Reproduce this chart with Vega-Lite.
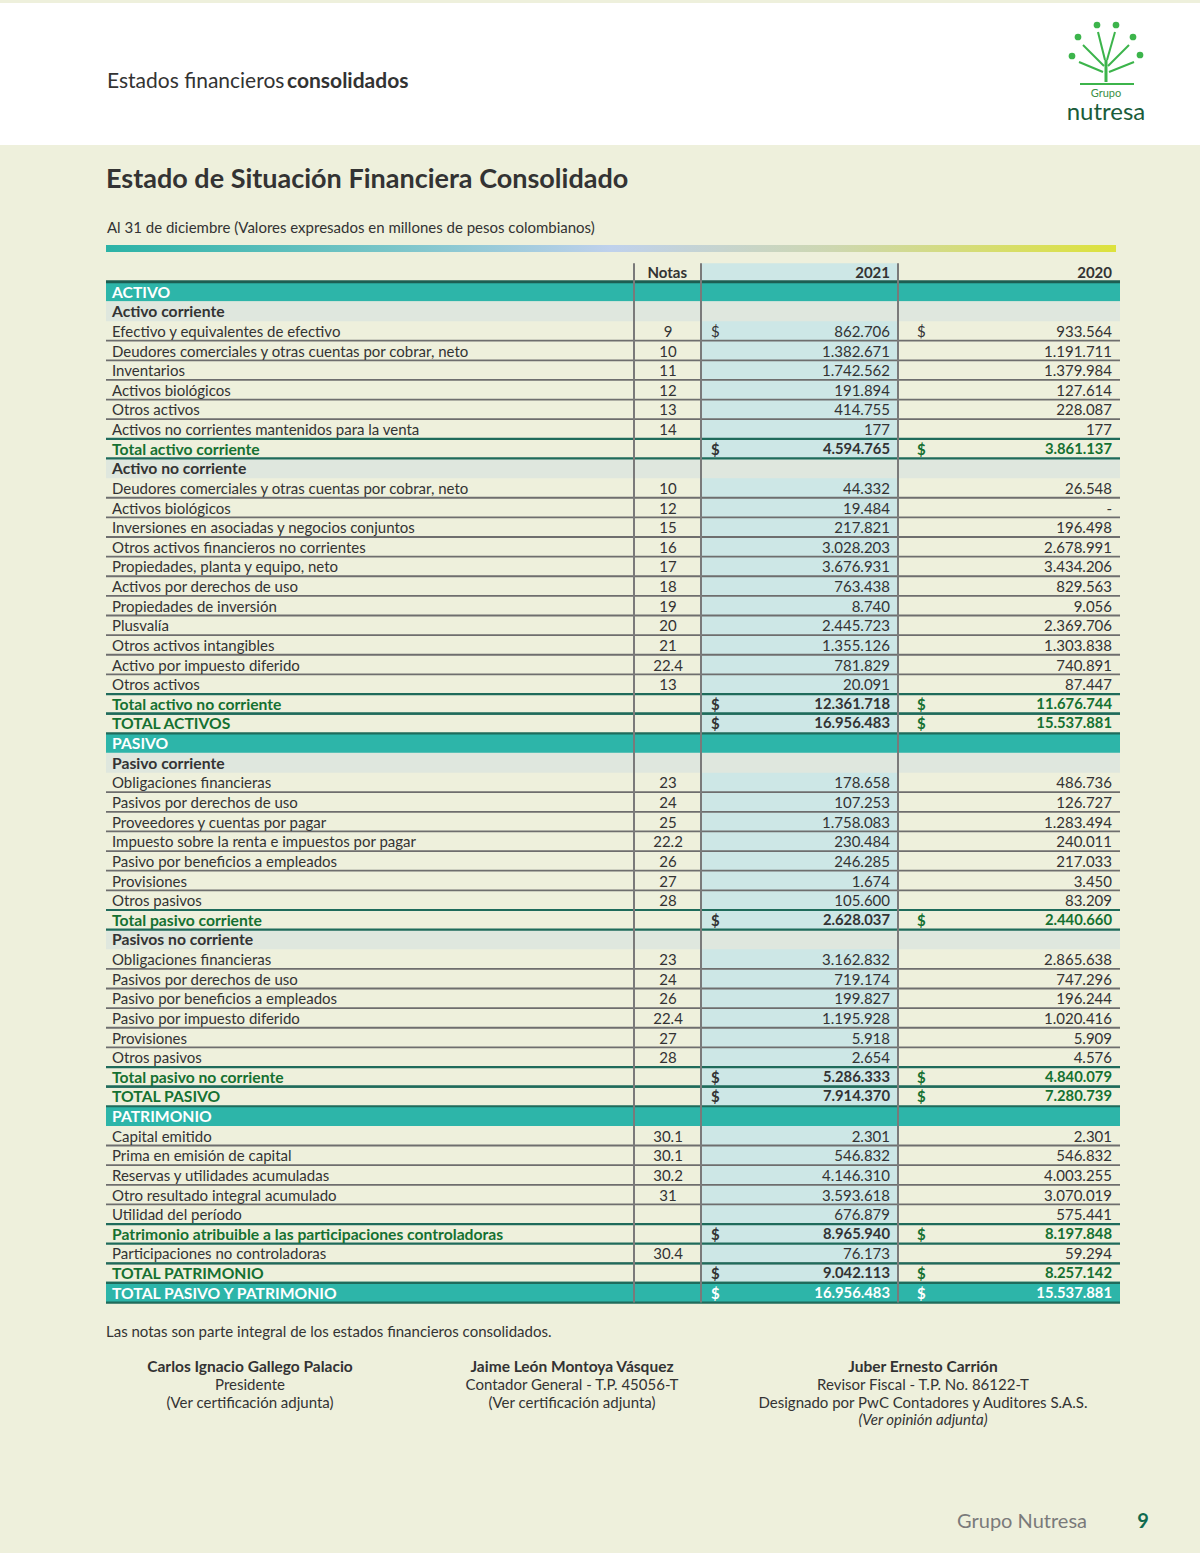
{
 "$schema": "https://vega.github.io/schema/vega-lite/v6.json",
 "width": 1200,
 "height": 1553,
 "autosize": {"type": "fit", "contains": "padding"},
 "padding": 0,
 "background": "#eef0dc",
 "config": {
  "view": {"stroke": null},
  "axis": {"disable": true},
  "locale": {"number": {"decimal": ",", "thousands": ".", "grouping": [3], "currency": ["$", ""]}},
  "text": {"font": "Lato", "fontSize": 15, "color": "#333333", "baseline": "middle"}
 },
 "datasets": {
  "uno": [{}],
  "tabla": [
   {"r": 1, "tipo": "section", "concepto": "ACTIVO"},
   {"r": 2, "tipo": "sub", "concepto": "Activo corriente"},
   {"r": 3, "tipo": "item", "concepto": "Efectivo y equivalentes de efectivo", "nota": "9", "v2021": 862706, "v2020": 933564, "signo": "$"},
   {"r": 4, "tipo": "item", "concepto": "Deudores comerciales y otras cuentas por cobrar, neto", "nota": "10", "v2021": 1382671, "v2020": 1191711},
   {"r": 5, "tipo": "item", "concepto": "Inventarios", "nota": "11", "v2021": 1742562, "v2020": 1379984},
   {"r": 6, "tipo": "item", "concepto": "Activos biológicos", "nota": "12", "v2021": 191894, "v2020": 127614},
   {"r": 7, "tipo": "item", "concepto": "Otros activos", "nota": "13", "v2021": 414755, "v2020": 228087},
   {"r": 8, "tipo": "item", "concepto": "Activos no corrientes mantenidos para la venta", "nota": "14", "v2021": 177, "v2020": 177},
   {"r": 9, "tipo": "total", "concepto": "Total activo corriente", "v2021": 4594765, "v2020": 3861137, "signo": "$"},
   {"r": 10, "tipo": "sub", "concepto": "Activo no corriente"},
   {"r": 11, "tipo": "item", "concepto": "Deudores comerciales y otras cuentas por cobrar, neto", "nota": "10", "v2021": 44332, "v2020": 26548},
   {"r": 12, "tipo": "item", "concepto": "Activos biológicos", "nota": "12", "v2021": 19484, "v2020": null},
   {"r": 13, "tipo": "item", "concepto": "Inversiones en asociadas y negocios conjuntos", "nota": "15", "v2021": 217821, "v2020": 196498},
   {"r": 14, "tipo": "item", "concepto": "Otros activos financieros no corrientes", "nota": "16", "v2021": 3028203, "v2020": 2678991},
   {"r": 15, "tipo": "item", "concepto": "Propiedades, planta y equipo, neto", "nota": "17", "v2021": 3676931, "v2020": 3434206},
   {"r": 16, "tipo": "item", "concepto": "Activos por derechos de uso", "nota": "18", "v2021": 763438, "v2020": 829563},
   {"r": 17, "tipo": "item", "concepto": "Propiedades de inversión", "nota": "19", "v2021": 8740, "v2020": 9056},
   {"r": 18, "tipo": "item", "concepto": "Plusvalía", "nota": "20", "v2021": 2445723, "v2020": 2369706},
   {"r": 19, "tipo": "item", "concepto": "Otros activos intangibles", "nota": "21", "v2021": 1355126, "v2020": 1303838},
   {"r": 20, "tipo": "item", "concepto": "Activo por impuesto diferido", "nota": "22.4", "v2021": 781829, "v2020": 740891},
   {"r": 21, "tipo": "item", "concepto": "Otros activos", "nota": "13", "v2021": 20091, "v2020": 87447},
   {"r": 22, "tipo": "total", "concepto": "Total activo no corriente", "v2021": 12361718, "v2020": 11676744, "signo": "$"},
   {"r": 23, "tipo": "total", "concepto": "TOTAL ACTIVOS", "v2021": 16956483, "v2020": 15537881, "signo": "$"},
   {"r": 24, "tipo": "section", "concepto": "PASIVO"},
   {"r": 25, "tipo": "sub", "concepto": "Pasivo corriente"},
   {"r": 26, "tipo": "item", "concepto": "Obligaciones financieras", "nota": "23", "v2021": 178658, "v2020": 486736},
   {"r": 27, "tipo": "item", "concepto": "Pasivos por derechos de uso", "nota": "24", "v2021": 107253, "v2020": 126727},
   {"r": 28, "tipo": "item", "concepto": "Proveedores y cuentas por pagar", "nota": "25", "v2021": 1758083, "v2020": 1283494},
   {"r": 29, "tipo": "item", "concepto": "Impuesto sobre la renta e impuestos por pagar", "nota": "22.2", "v2021": 230484, "v2020": 240011},
   {"r": 30, "tipo": "item", "concepto": "Pasivo por beneficios a empleados", "nota": "26", "v2021": 246285, "v2020": 217033},
   {"r": 31, "tipo": "item", "concepto": "Provisiones", "nota": "27", "v2021": 1674, "v2020": 3450},
   {"r": 32, "tipo": "item", "concepto": "Otros pasivos", "nota": "28", "v2021": 105600, "v2020": 83209},
   {"r": 33, "tipo": "total", "concepto": "Total pasivo corriente", "v2021": 2628037, "v2020": 2440660, "signo": "$"},
   {"r": 34, "tipo": "sub", "concepto": "Pasivos no corriente"},
   {"r": 35, "tipo": "item", "concepto": "Obligaciones financieras", "nota": "23", "v2021": 3162832, "v2020": 2865638},
   {"r": 36, "tipo": "item", "concepto": "Pasivos por derechos de uso", "nota": "24", "v2021": 719174, "v2020": 747296},
   {"r": 37, "tipo": "item", "concepto": "Pasivo por beneficios a empleados", "nota": "26", "v2021": 199827, "v2020": 196244},
   {"r": 38, "tipo": "item", "concepto": "Pasivo por impuesto diferido", "nota": "22.4", "v2021": 1195928, "v2020": 1020416},
   {"r": 39, "tipo": "item", "concepto": "Provisiones", "nota": "27", "v2021": 5918, "v2020": 5909},
   {"r": 40, "tipo": "item", "concepto": "Otros pasivos", "nota": "28", "v2021": 2654, "v2020": 4576},
   {"r": 41, "tipo": "total", "concepto": "Total pasivo no corriente", "v2021": 5286333, "v2020": 4840079, "signo": "$"},
   {"r": 42, "tipo": "total", "concepto": "TOTAL PASIVO", "v2021": 7914370, "v2020": 7280739, "signo": "$"},
   {"r": 43, "tipo": "section", "concepto": "PATRIMONIO"},
   {"r": 44, "tipo": "item", "concepto": "Capital emitido", "nota": "30.1", "v2021": 2301, "v2020": 2301},
   {"r": 45, "tipo": "item", "concepto": "Prima en emisión de capital", "nota": "30.1", "v2021": 546832, "v2020": 546832},
   {"r": 46, "tipo": "item", "concepto": "Reservas y utilidades acumuladas", "nota": "30.2", "v2021": 4146310, "v2020": 4003255},
   {"r": 47, "tipo": "item", "concepto": "Otro resultado integral acumulado", "nota": "31", "v2021": 3593618, "v2020": 3070019},
   {"r": 48, "tipo": "item", "concepto": "Utilidad del período", "nota": "", "v2021": 676879, "v2020": 575441},
   {"r": 49, "tipo": "total", "concepto": "Patrimonio atribuible a las participaciones controladoras", "v2021": 8965940, "v2020": 8197848, "signo": "$"},
   {"r": 50, "tipo": "item", "concepto": "Participaciones no controladoras", "nota": "30.4", "v2021": 76173, "v2020": 59294},
   {"r": 51, "tipo": "total", "concepto": "TOTAL PATRIMONIO", "v2021": 9042113, "v2020": 8257142, "signo": "$"},
   {"r": 52, "tipo": "final", "concepto": "TOTAL PASIVO Y PATRIMONIO", "v2021": 16956483, "v2020": 15537881, "signo": "$"}
  ]
 },
 "layer": [
  {"data": {"name": "uno"}, "mark": {"type": "rect", "color": "#ffffff"},
   "encoding": {
    "x": {"datum": 0, "type": "quantitative", "scale": {"domain": [0, 1200], "nice": false, "zero": false}, "axis": null},
    "x2": {"datum": 1200},
    "y": {"datum": -13.704, "type": "quantitative", "scale": {"domain": [-13.8563, 65.2573], "nice": false, "zero": false, "reverse": true}, "axis": null},
    "y2": {"datum": -6.47}}},
  {"data": {"name": "uno"}, "mark": {"type": "rect", "fill": {"gradient": "linear", "x1": 0, "y1": 0, "x2": 1, "y2": 0, "stops": [{"offset": 0, "color": "#2bb3a6"}, {"offset": 0.28, "color": "#79c5c8"}, {"offset": 0.5, "color": "#bfd1ec"}, {"offset": 0.72, "color": "#cdd7b0"}, {"offset": 1, "color": "#dde23c"}]}},
   "encoding": {"x": {"datum": 106, "type": "quantitative"}, "x2": {"datum": 1116}, "y": {"datum": -1.375, "type": "quantitative"}, "y2": {"datum": -1.019}}},
  {"data": {"name": "uno"}, "mark": {"type": "rect", "color": "#cde7e6"},
   "encoding": {"x": {"datum": 701, "type": "quantitative"}, "x2": {"datum": 897}, "y": {"datum": -0.45, "type": "quantitative"}, "y2": {"datum": 51.5}}},
  {"data": {"name": "tabla"}, "transform": [{"filter": "datum.tipo == 'section' || datum.tipo == 'final'"}],
   "mark": {"type": "rule", "color": "#2db5a9", "strokeWidth": 19.8},
   "encoding": {"x": {"datum": 106, "type": "quantitative"}, "x2": {"datum": 1120}, "y": {"field": "r", "type": "quantitative"}}},
  {"data": {"name": "tabla"}, "transform": [{"filter": "datum.tipo == 'sub'"}],
   "mark": {"type": "rule", "color": "#dfe7de", "strokeWidth": 19.8},
   "encoding": {"x": {"datum": 106, "type": "quantitative"}, "x2": {"datum": 1120}, "y": {"field": "r", "type": "quantitative"}}},
  {"data": {"name": "tabla"}, "transform": [{"filter": "datum.tipo == 'item'"}],
   "mark": {"type": "rule", "color": "#6e6e6e", "strokeWidth": 1.8, "yOffset": 9.8},
   "encoding": {"x": {"datum": 106, "type": "quantitative"}, "x2": {"datum": 1120}, "y": {"field": "r", "type": "quantitative"}}},
  {"data": {"name": "tabla"}, "transform": [{"filter": "datum.tipo == 'total' || datum.tipo == 'final'"}],
   "mark": {"type": "rule", "color": "#1f6b5b", "strokeWidth": 2.2, "yOffset": -9.8},
   "encoding": {"x": {"datum": 106, "type": "quantitative"}, "x2": {"datum": 1120}, "y": {"field": "r", "type": "quantitative"}}},
  {"data": {"name": "tabla"}, "transform": [{"filter": "datum.tipo == 'total' || datum.tipo == 'final'"}],
   "mark": {"type": "rule", "color": "#1f6b5b", "strokeWidth": 2.2, "yOffset": 9.8},
   "encoding": {"x": {"datum": 106, "type": "quantitative"}, "x2": {"datum": 1120}, "y": {"field": "r", "type": "quantitative"}}},
  {"data": {"name": "uno"}, "mark": {"type": "rule", "color": "#1d5e52", "strokeWidth": 3},
   "encoding": {"x": {"datum": 106, "type": "quantitative"}, "x2": {"datum": 1120}, "y": {"datum": 0.5, "type": "quantitative"}}},
  {"data": {"name": "uno"}, "mark": {"type": "rule", "color": "#7a7a7a", "strokeWidth": 2},
   "encoding": {"x": {"datum": 634, "type": "quantitative"}, "y": {"datum": -0.45, "type": "quantitative"}, "y2": {"datum": 52.5}}},
  {"data": {"name": "uno"}, "mark": {"type": "rule", "color": "#7a7a7a", "strokeWidth": 2},
   "encoding": {"x": {"datum": 701, "type": "quantitative"}, "y": {"datum": -0.45, "type": "quantitative"}, "y2": {"datum": 52.5}}},
  {"data": {"name": "uno"}, "mark": {"type": "rule", "color": "#7a7a7a", "strokeWidth": 2},
   "encoding": {"x": {"datum": 898, "type": "quantitative"}, "y": {"datum": -0.45, "type": "quantitative"}, "y2": {"datum": 52.5}}},
  {"data": {"name": "uno"}, "mark": {"type": "text", "align": "right", "fontWeight": "bold", "dy": 1},
   "encoding": {"x": {"datum": 687, "type": "quantitative"}, "y": {"datum": 0, "type": "quantitative"}, "text": {"value": "Notas"}}},
  {"data": {"name": "uno"}, "mark": {"type": "text", "align": "right", "fontWeight": "bold", "dy": 1},
   "encoding": {"x": {"datum": 890, "type": "quantitative"}, "y": {"datum": 0, "type": "quantitative"}, "text": {"value": "2021"}}},
  {"data": {"name": "uno"}, "mark": {"type": "text", "align": "right", "fontWeight": "bold", "dy": 1},
   "encoding": {"x": {"datum": 1112, "type": "quantitative"}, "y": {"datum": 0, "type": "quantitative"}, "text": {"value": "2020"}}},
  {"data": {"name": "tabla"}, "transform": [{"filter": "datum.tipo == 'item'"}],
   "mark": {"type": "text", "align": "left", "dy": 1},
   "encoding": {"x": {"datum": 112, "type": "quantitative"}, "y": {"field": "r", "type": "quantitative"}, "text": {"field": "concepto"}}},
  {"data": {"name": "tabla"}, "transform": [{"filter": "datum.tipo != 'item'"}],
   "mark": {"type": "text", "align": "left", "fontWeight": "bold", "fontSize": 15.7, "dy": 1},
   "encoding": {"x": {"datum": 112, "type": "quantitative"}, "y": {"field": "r", "type": "quantitative"}, "text": {"field": "concepto"},
    "color": {"condition": [{"test": "datum.tipo == 'section' || datum.tipo == 'final'", "value": "#ffffff"}, {"test": "datum.tipo == 'total'", "value": "#157031"}], "value": "#333333"}}},
  {"data": {"name": "tabla"}, "transform": [{"filter": "datum.tipo == 'item'"}],
   "mark": {"type": "text", "align": "center", "dy": 1},
   "encoding": {"x": {"datum": 668, "type": "quantitative"}, "y": {"field": "r", "type": "quantitative"}, "text": {"field": "nota"}}},
  {"data": {"name": "tabla"}, "transform": [{"filter": "datum.tipo == 'item'"}],
   "mark": {"type": "text", "align": "right", "dy": 1},
   "encoding": {"x": {"datum": 890, "type": "quantitative"}, "y": {"field": "r", "type": "quantitative"}, "text": {"field": "v2021", "type": "quantitative", "format": ",.0f"}}},
  {"data": {"name": "tabla"}, "transform": [{"filter": "datum.tipo == 'item'"}],
   "mark": {"type": "text", "align": "right", "dy": 1},
   "encoding": {"x": {"datum": 1112, "type": "quantitative"}, "y": {"field": "r", "type": "quantitative"},
    "text": {"condition": {"test": "datum.v2020 == null", "value": "-"}, "field": "v2020", "type": "quantitative", "format": ",.0f"}}},
  {"data": {"name": "tabla"}, "transform": [{"filter": "datum.tipo == 'total' || datum.tipo == 'final'"}],
   "mark": {"type": "text", "align": "right", "fontWeight": "bold", "fontSize": 14.8, "dy": 1},
   "encoding": {"x": {"datum": 890, "type": "quantitative"}, "y": {"field": "r", "type": "quantitative"}, "text": {"field": "v2021", "type": "quantitative", "format": ",.0f"},
    "color": {"condition": {"test": "datum.tipo == 'final'", "value": "#ffffff"}, "value": "#333333"}}},
  {"data": {"name": "tabla"}, "transform": [{"filter": "datum.tipo == 'total' || datum.tipo == 'final'"}],
   "mark": {"type": "text", "align": "right", "fontWeight": "bold", "fontSize": 14.8, "dy": 1},
   "encoding": {"x": {"datum": 1112, "type": "quantitative"}, "y": {"field": "r", "type": "quantitative"}, "text": {"field": "v2020", "type": "quantitative", "format": ",.0f"},
    "color": {"condition": {"test": "datum.tipo == 'final'", "value": "#ffffff"}, "value": "#157031"}}},
  {"data": {"name": "tabla"}, "transform": [{"filter": "datum.tipo == 'item' && datum.signo == '$'"}],
   "mark": {"type": "text", "align": "left", "dy": 1},
   "encoding": {"x": {"datum": 711, "type": "quantitative"}, "y": {"field": "r", "type": "quantitative"}, "text": {"field": "signo"}}},
  {"data": {"name": "tabla"}, "transform": [{"filter": "datum.tipo == 'item' && datum.signo == '$'"}],
   "mark": {"type": "text", "align": "left", "dy": 1},
   "encoding": {"x": {"datum": 917, "type": "quantitative"}, "y": {"field": "r", "type": "quantitative"}, "text": {"field": "signo"}}},
  {"data": {"name": "tabla"}, "transform": [{"filter": "datum.tipo == 'total' || datum.tipo == 'final'"}],
   "mark": {"type": "text", "align": "left", "fontWeight": "bold", "dy": 1},
   "encoding": {"x": {"datum": 711, "type": "quantitative"}, "y": {"field": "r", "type": "quantitative"}, "text": {"field": "signo"},
    "color": {"condition": {"test": "datum.tipo == 'final'", "value": "#ffffff"}, "value": "#333333"}}},
  {"data": {"name": "tabla"}, "transform": [{"filter": "datum.tipo == 'total' || datum.tipo == 'final'"}],
   "mark": {"type": "text", "align": "left", "fontWeight": "bold", "dy": 1},
   "encoding": {"x": {"datum": 917, "type": "quantitative"}, "y": {"field": "r", "type": "quantitative"}, "text": {"field": "signo"},
    "color": {"condition": {"test": "datum.tipo == 'final'", "value": "#ffffff"}, "value": "#157031"}}},
  {"data": {"name": "uno"}, "mark": {"type": "text", "align": "left", "fontSize": 21},
   "encoding": {"x": {"datum": 107, "type": "quantitative"}, "y": {"datum": -9.679, "type": "quantitative"}, "text": {"value": "Estados financieros"}}},
  {"data": {"name": "uno"}, "mark": {"type": "text", "align": "left", "fontSize": 21, "fontWeight": "bold"},
   "encoding": {"x": {"datum": 287, "type": "quantitative"}, "y": {"datum": -9.679, "type": "quantitative"}, "text": {"value": "consolidados"}}},
  {"data": {"name": "uno"}, "mark": {"type": "text", "align": "left", "fontSize": 27, "fontWeight": "bold"},
   "encoding": {"x": {"datum": 106, "type": "quantitative"}, "y": {"datum": -4.687, "type": "quantitative"}, "text": {"value": "Estado de Situación Financiera Consolidado"}}},
  {"data": {"name": "uno"}, "mark": {"type": "text", "align": "left", "fontSize": 15},
   "encoding": {"x": {"datum": 107, "type": "quantitative"}, "y": {"datum": -2.241, "type": "quantitative"}, "text": {"value": "Al 31 de diciembre (Valores expresados en millones de pesos colombianos)"}}},
  {"data": {"name": "uno"}, "mark": {"type": "text", "align": "left", "fontSize": 15},
   "encoding": {"x": {"datum": 106, "type": "quantitative"}, "y": {"datum": 54.0, "type": "quantitative"}, "text": {"value": "Las notas son parte integral de los estados financieros consolidados."}}},
  {"data": {"name": "uno"}, "mark": {"type": "text", "align": "center", "fontWeight": "bold", "fontSize": 15.5},
   "encoding": {"x": {"datum": 250, "type": "quantitative"}, "y": {"datum": 55.78, "type": "quantitative"}, "text": {"value": "Carlos Ignacio Gallego Palacio"}}},
  {"data": {"name": "uno"}, "mark": {"type": "text", "align": "center", "fontWeight": "bold", "fontSize": 15.5},
   "encoding": {"x": {"datum": 572, "type": "quantitative"}, "y": {"datum": 55.78, "type": "quantitative"}, "text": {"value": "Jaime León Montoya Vásquez"}}},
  {"data": {"name": "uno"}, "mark": {"type": "text", "align": "center", "fontWeight": "bold", "fontSize": 15.5},
   "encoding": {"x": {"datum": 923, "type": "quantitative"}, "y": {"datum": 55.78, "type": "quantitative"}, "text": {"value": "Juber Ernesto Carrión"}}},
  {"data": {"name": "uno"}, "mark": {"type": "text", "align": "center", "baseline": "alphabetic", "lineHeight": 18},
   "encoding": {"x": {"datum": 250, "type": "quantitative"}, "y": {"datum": 56.95, "type": "quantitative"}, "text": {"value": ["Presidente", "(Ver certificación adjunta)"]}}},
  {"data": {"name": "uno"}, "mark": {"type": "text", "align": "center", "baseline": "alphabetic", "lineHeight": 18},
   "encoding": {"x": {"datum": 572, "type": "quantitative"}, "y": {"datum": 56.95, "type": "quantitative"}, "text": {"value": ["Contador General - T.P. 45056-T", "(Ver certificación adjunta)"]}}},
  {"data": {"name": "uno"}, "mark": {"type": "text", "align": "center", "baseline": "alphabetic", "lineHeight": 18},
   "encoding": {"x": {"datum": 923, "type": "quantitative"}, "y": {"datum": 56.95, "type": "quantitative"}, "text": {"value": ["Revisor Fiscal - T.P. No. 86122-T", "Designado por PwC Contadores y Auditores S.A.S."]}}},
  {"data": {"name": "uno"}, "mark": {"type": "text", "align": "center", "baseline": "alphabetic", "fontStyle": "italic"},
   "encoding": {"x": {"datum": 923, "type": "quantitative"}, "y": {"datum": 58.74, "type": "quantitative"}, "text": {"value": "(Ver opinión adjunta)"}}},
  {"data": {"name": "uno"}, "mark": {"type": "text", "align": "right", "fontSize": 20, "color": "#7a7a7a"},
   "encoding": {"x": {"datum": 1087, "type": "quantitative"}, "y": {"datum": 63.678, "type": "quantitative"}, "text": {"value": "Grupo Nutresa"}}},
  {"data": {"name": "uno"}, "mark": {"type": "text", "align": "center", "fontSize": 20, "fontWeight": "bold", "color": "#0f6b4f"},
   "encoding": {"x": {"datum": 1143, "type": "quantitative"}, "y": {"datum": 63.678, "type": "quantitative"}, "text": {"value": "9"}}},
  {"data": {"name": "uno"}, "mark": {"type": "rule", "color": "#3cb44b", "strokeWidth": 2},
   "encoding": {"x": {"datum": 1080, "type": "quantitative"}, "x2": {"datum": 1134}, "y": {"datum": -9.577, "type": "quantitative"}}},
  {"data": {"name": "uno"}, "mark": {"type": "rule", "color": "#3cb44b", "strokeWidth": 3},
   "encoding": {"x": {"datum": 1106, "type": "quantitative"}, "x2": {"datum": 1106}, "y": {"datum": -9.679, "type": "quantitative"}, "y2": {"datum": -10.8}}},
  {"data": {"name": "uno"}, "mark": {"type": "rule", "color": "#3cb44b", "strokeWidth": 2},
   "encoding": {"x": {"datum": 1105, "type": "quantitative"}, "x2": {"datum": 1098}, "y": {"datum": -10.8, "type": "quantitative"}, "y2": {"datum": -12.226}}},
  {"data": {"name": "uno"}, "mark": {"type": "rule", "color": "#3cb44b", "strokeWidth": 2},
   "encoding": {"x": {"datum": 1107, "type": "quantitative"}, "x2": {"datum": 1115}, "y": {"datum": -10.8, "type": "quantitative"}, "y2": {"datum": -12.226}}},
  {"data": {"name": "uno"}, "mark": {"type": "rule", "color": "#3cb44b", "strokeWidth": 2},
   "encoding": {"x": {"datum": 1104, "type": "quantitative"}, "x2": {"datum": 1083}, "y": {"datum": -10.494, "type": "quantitative"}, "y2": {"datum": -11.564}}},
  {"data": {"name": "uno"}, "mark": {"type": "rule", "color": "#3cb44b", "strokeWidth": 2},
   "encoding": {"x": {"datum": 1108, "type": "quantitative"}, "x2": {"datum": 1129}, "y": {"datum": -10.494, "type": "quantitative"}, "y2": {"datum": -11.564}}},
  {"data": {"name": "uno"}, "mark": {"type": "rule", "color": "#3cb44b", "strokeWidth": 2},
   "encoding": {"x": {"datum": 1103, "type": "quantitative"}, "x2": {"datum": 1079}, "y": {"datum": -10.189, "type": "quantitative"}, "y2": {"datum": -10.698}}},
  {"data": {"name": "uno"}, "mark": {"type": "rule", "color": "#3cb44b", "strokeWidth": 2},
   "encoding": {"x": {"datum": 1109, "type": "quantitative"}, "x2": {"datum": 1134}, "y": {"datum": -10.189, "type": "quantitative"}, "y2": {"datum": -10.698}}},
  {"data": {"name": "uno"}, "mark": {"type": "point", "filled": true, "color": "#3cb44b", "size": 45, "opacity": 1},
   "encoding": {"x": {"datum": 1097, "type": "quantitative"}, "y": {"datum": -12.583, "type": "quantitative"}}},
  {"data": {"name": "uno"}, "mark": {"type": "point", "filled": true, "color": "#3cb44b", "size": 45, "opacity": 1},
   "encoding": {"x": {"datum": 1116, "type": "quantitative"}, "y": {"datum": -12.583, "type": "quantitative"}}},
  {"data": {"name": "uno"}, "mark": {"type": "point", "filled": true, "color": "#3cb44b", "size": 45, "opacity": 1},
   "encoding": {"x": {"datum": 1078, "type": "quantitative"}, "y": {"datum": -11.972, "type": "quantitative"}}},
  {"data": {"name": "uno"}, "mark": {"type": "point", "filled": true, "color": "#3cb44b", "size": 45, "opacity": 1},
   "encoding": {"x": {"datum": 1133, "type": "quantitative"}, "y": {"datum": -11.972, "type": "quantitative"}}},
  {"data": {"name": "uno"}, "mark": {"type": "point", "filled": true, "color": "#3cb44b", "size": 45, "opacity": 1},
   "encoding": {"x": {"datum": 1072, "type": "quantitative"}, "y": {"datum": -11.004, "type": "quantitative"}}},
  {"data": {"name": "uno"}, "mark": {"type": "point", "filled": true, "color": "#3cb44b", "size": 45, "opacity": 1},
   "encoding": {"x": {"datum": 1140, "type": "quantitative"}, "y": {"datum": -11.055, "type": "quantitative"}}},
  {"data": {"name": "uno"}, "mark": {"type": "text", "align": "center", "fontSize": 11, "color": "#3a8f45"},
   "encoding": {"x": {"datum": 1106, "type": "quantitative"}, "y": {"datum": -9.07, "type": "quantitative"}, "text": {"value": "Grupo"}}},
  {"data": {"name": "uno"}, "mark": {"type": "text", "align": "center", "fontSize": 24, "color": "#1a5c3a"},
   "encoding": {"x": {"datum": 1106, "type": "quantitative"}, "y": {"datum": -8.1, "type": "quantitative"}, "text": {"value": "nutresa"}}}
 ]
}
